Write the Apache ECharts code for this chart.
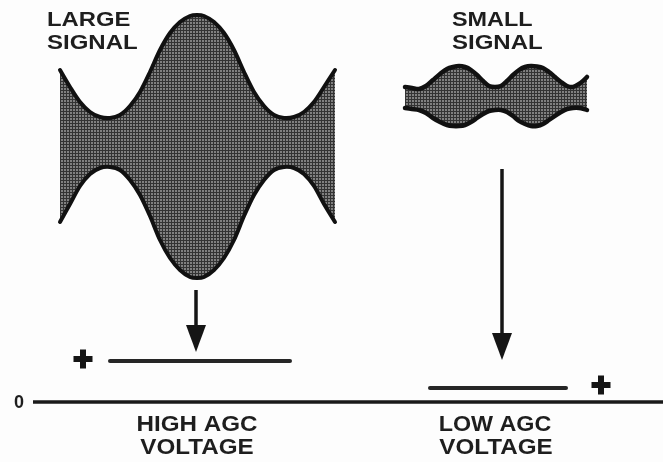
<!DOCTYPE html>
<html>
<head>
<meta charset="utf-8">
<script src="https://cdn.jsdelivr.net/npm/echarts@6/dist/echarts.min.js"></script>
<style>
  html, body { margin: 0; padding: 0; background: #fdfdfd; }
  #chart { width: 663px; height: 462px; }
</style>
</head>
<body>
<div id="chart"></div>
<script>
// everything lives in picture coordinates (x right, y down)
const largeX = [60, 70, 80, 90, 100, 110, 120, 130, 140, 150, 160, 170, 180, 190, 197, 204, 214, 224, 234, 244, 254, 264, 274, 284, 294, 304, 314, 324, 335];
const largeTop = [70, 87, 102, 112, 117, 118, 115, 106, 92, 72, 50, 33, 22, 16, 15, 16, 22, 33, 50, 72, 92, 106, 115, 118, 117, 112, 102, 87, 70];
const largeBottom = [222, 204, 186, 174, 168, 167, 170, 180, 195, 216, 240, 258, 270, 277, 278, 277, 270, 258, 240, 216, 195, 180, 170, 167, 168, 174, 186, 204, 222];

const smallX = [405, 412, 419, 426, 433, 440, 447, 453, 459, 465, 471, 477, 483, 489, 495, 501, 507, 513, 519, 525, 531, 537, 543, 549, 555, 561, 567, 573, 579, 584, 587];
const smallTop = [87, 88, 89, 86, 80, 74, 69, 67, 66, 67, 70, 75, 81, 86, 87, 86, 81, 75, 70, 67, 66, 66.5, 68, 72, 77, 82, 86, 87, 84, 80, 77];
const smallBottom = [108, 109, 110, 113, 118, 122, 125, 126, 126, 125, 122, 118, 114, 111, 110, 110, 112, 116, 121, 124, 126, 126, 124, 120, 116, 112, 109, 108, 108, 109, 110];

// arrows: x, shaft top, tip
const arrows = [[196, 290, 352], [502, 169, 360]];
// agc voltage levels: x start, x end, y
const levels = [[110, 290, 361], [430, 566, 388]];
const zeroLine = [[33, 402], [663, 402]];
const plusSigns = [[83, 359], [601, 385]];

const envelopes = [
  { x: largeX, top: largeTop, bottom: largeBottom, width: 4 },
  { x: smallX, top: smallTop, bottom: smallBottom, width: 4.5 }
];

// halftone-ish fill
const tile = document.createElement('canvas');
tile.width = 3; tile.height = 3;
const tctx = tile.getContext('2d');
tctx.fillStyle = '#333333';
tctx.fillRect(0, 0, 3, 3);
tctx.fillStyle = '#808080';
tctx.fillRect(1, 1, 2, 2);

const chart = echarts.init(document.getElementById('chart'));

const boldText = (text, x, y, size, sx, align) => ({
  type: 'text',
  x: x, y: y, scaleX: sx,
  style: {
    text: text,
    font: 'bold ' + size + 'px "Liberation Sans", Arial, sans-serif',
    fill: '#1e1e1e',
    align: align || 'center',
    verticalAlign: 'middle'
  }
});

chart.setOption({
  animation: false,
  backgroundColor: '#fdfdfd',
  grid: { left: 0, right: 0, top: 0, bottom: 0 },
  xAxis: { type: 'value', min: 0, max: 663, show: false },
  yAxis: { type: 'value', min: 0, max: 462, inverse: true, show: false },
  graphic: [
    boldText('LARGE', 47, 20, 20, 1.19, 'left'),
    boldText('SIGNAL', 47, 43, 20, 1.2, 'left'),
    boldText('SMALL', 452, 20, 20, 1.17, 'left'),
    boldText('SIGNAL', 452, 43, 20, 1.2, 'left'),
    boldText('HIGH AGC', 197, 425, 22, 1.1),
    boldText('VOLTAGE', 197, 448, 22, 1.1),
    boldText('LOW AGC', 495, 425, 22, 1.06),
    boldText('VOLTAGE', 496, 448, 22, 1.1),
    boldText('0', 19, 403, 18, 1)
  ],
  series: [
    {
      type: 'custom',
      data: envelopes.map((e, i) => [e.x[0], e.top[0], i]),
      renderItem: (params, api) => {
        const e = envelopes[params.dataIndex];
        const top = e.x.map((x, i) => api.coord([x, e.top[i]]));
        const bottom = e.x.map((x, i) => api.coord([x, e.bottom[i]]));
        const poly = top.concat(bottom.slice().reverse());
        const edge = pts => ({
          type: 'polyline',
          shape: { points: pts, smooth: 0.3 },
          style: { stroke: '#111', lineWidth: e.width, fill: null, lineCap: 'round', lineJoin: 'round' }
        });
        return {
          type: 'group',
          children: [
            { type: 'polygon', shape: { points: poly }, style: { fill: { image: tile, repeat: 'repeat' } } },
            edge(top),
            edge(bottom)
          ]
        };
      }
    },
    {
      type: 'custom',
      data: arrows,
      renderItem: (params, api) => {
        const p1 = api.coord([api.value(0), api.value(1)]);
        const p2 = api.coord([api.value(0), api.value(2)]);
        return {
          type: 'group',
          children: [
            {
              type: 'line',
              shape: { x1: p1[0], y1: p1[1], x2: p2[0], y2: p2[1] - 24 },
              style: { stroke: '#151515', lineWidth: 3.5 }
            },
            {
              type: 'polygon',
              shape: { points: [[p2[0] - 10, p2[1] - 27], [p2[0] + 10, p2[1] - 27], [p2[0], p2[1]]] },
              style: { fill: '#151515' }
            }
          ]
        };
      }
    },
    ...levels.map(l => ({
      type: 'line',
      data: [[l[0], l[2]], [l[1], l[2]]],
      symbol: 'none',
      silent: true,
      lineStyle: { color: '#262626', width: 4, cap: 'round' }
    })),
    {
      type: 'line',
      data: zeroLine,
      symbol: 'none',
      silent: true,
      lineStyle: { color: '#1a1a1a', width: 3.5 }
    },
    {
      type: 'scatter',
      data: plusSigns,
      symbol: 'path://M6.5,0H12.5V6.5H19V12.5H12.5V19H6.5V12.5H0V6.5H6.5Z',
      symbolSize: 19,
      itemStyle: { color: '#151515', opacity: 1 }
    }
  ]
});
</script>
</body>
</html>
